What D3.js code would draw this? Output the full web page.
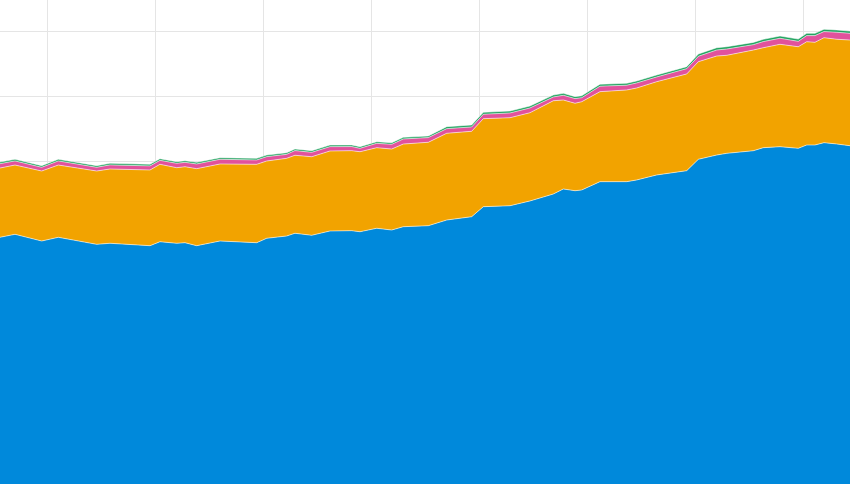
<!DOCTYPE html>
<html>
<head>
<meta charset="utf-8">
<script src="https://cdn.jsdelivr.net/npm/d3@7"></script>
<style>
  html, body { margin: 0; padding: 0; background: #fff; overflow: hidden; }
  svg { display: block; }
</style>
</head>
<body>
<svg id="chart" width="850" height="484"></svg>
<script>
// Time (decimal years)
const years = [2012.565, 2012.704, 2012.951, 2013.105, 2013.460, 2013.583, 2013.954, 2014.046, 2014.201, 2014.278,
  2014.386, 2014.602, 2014.942, 2015.034, 2015.219, 2015.296, 2015.451, 2015.620, 2015.821, 2015.898,
  2016.053, 2016.192, 2016.299, 2016.531, 2016.701, 2016.932, 2017.040, 2017.287, 2017.472, 2017.688,
  2017.781, 2017.889, 2017.951, 2018.120, 2018.368, 2018.460, 2018.645, 2018.923, 2019.031, 2019.201,
  2019.294, 2019.540, 2019.632, 2019.787, 2019.956, 2020.034, 2020.111, 2020.194, 2020.312, 2020.435];

const blue = [38.26, 38.72, 37.69, 38.26, 37.18, 37.34, 36.97, 37.58, 37.34, 37.43,
  36.97, 37.69, 37.43, 38.11, 38.46, 38.88, 38.57, 39.23, 39.28, 39.12,
  39.65, 39.38, 39.89, 40.05, 40.92, 41.43, 42.97, 43.12, 43.85, 44.92,
  45.69, 45.43, 45.54, 46.82, 46.82, 47.08, 47.85, 48.51, 50.26, 50.92,
  51.18, 51.58, 52.05, 52.20, 51.95, 52.46, 52.46, 52.82, 52.62, 52.35];

const orange = [10.66, 10.66, 10.77, 11.12, 11.28, 11.43, 11.65, 11.91, 11.63, 11.69,
  11.85, 11.85, 12.06, 11.89, 11.95, 12.00, 12.09, 12.31, 12.31, 12.31,
  12.40, 12.46, 12.72, 12.83, 13.34, 13.14, 13.54, 13.54, 13.58, 14.35,
  13.69, 13.45, 13.58, 13.85, 14.11, 14.15, 14.35, 14.88, 15.02, 15.23,
  15.08, 15.49, 15.38, 15.75, 15.63, 15.89, 15.80, 16.15, 16.11, 16.26];

const pink = [0.67, 0.63, 0.57, 0.63, 0.57, 0.63, 0.63, 0.61, 0.67, 0.67,
  0.73, 0.72, 0.67, 0.67, 0.61, 0.72, 0.67, 0.67, 0.63, 0.52,
  0.67, 0.72, 0.78, 0.72, 0.72, 0.67, 0.68, 0.73, 0.73, 0.58,
  0.73, 0.72, 0.62, 0.84, 0.73, 0.78, 0.73, 0.82, 0.83, 0.93,
  0.97, 0.83, 0.94, 0.93, 0.83, 0.94, 1.03, 0.94, 1.08, 1.03];

const green = [0.25, 0.25, 0.25, 0.25, 0.25, 0.25, 0.25, 0.25, 0.25, 0.25,
  0.25, 0.25, 0.25, 0.25, 0.25, 0.25, 0.25, 0.25, 0.25, 0.25,
  0.25, 0.25, 0.25, 0.25, 0.30, 0.30, 0.30, 0.30, 0.30, 0.30,
  0.30, 0.30, 0.30, 0.30, 0.30, 0.30, 0.30, 0.30, 0.35, 0.35,
  0.35, 0.35, 0.35, 0.35, 0.35, 0.35, 0.35, 0.35, 0.35, 0.35];

const seriesKeys = ["blue", "orange", "pink", "green"];
const seriesColors = ["#0089db", "#f2a300", "#e1529c", "#22a360"];
const xTicks = [2013, 2014, 2015, 2016, 2017, 2018, 2019, 2020];
const yTicks = [10, 20, 30, 40, 50, 60, 70];

const W = 850, H = 484;
const svg = d3.select("#chart");

const x = d3.scaleLinear().domain([2012.565, 2020.435]).range([0, W]);
const y = d3.scaleLinear().domain([0, 70]).range([486, 31]);

const rows = years.map((t, i) => ({
  t, blue: blue[i], orange: orange[i], pink: pink[i], green: green[i]
}));
const stacked = d3.stack().keys(seriesKeys)(rows);

// gridlines
const grid = svg.append("g");
grid.selectAll("line.v").data(xTicks).join("line")
  .attr("x1", d => Math.round(x(d)) + 0.5).attr("x2", d => Math.round(x(d)) + 0.5)
  .attr("y1", 0).attr("y2", H)
  .attr("stroke", "#e5e5e5").attr("stroke-width", 1);
grid.selectAll("line.h").data(yTicks).join("line")
  .attr("x1", 0).attr("x2", W)
  .attr("y1", d => Math.round(y(d)) + 0.5).attr("y2", d => Math.round(y(d)) + 0.5)
  .attr("stroke", "#e5e5e5").attr("stroke-width", 1);

const area = d3.area()
  .x(d => x(d.data.t))
  .y0(d => y(d[0]))
  .y1(d => y(d[1]));
const topLine = d3.line()
  .x(d => x(d.data.t))
  .y(d => y(d[1]));

svg.append("g").selectAll("path").data(stacked).join("path")
  .attr("d", area)
  .attr("fill", (d, i) => seriesColors[i]);

svg.append("g").selectAll("path").data(stacked).join("path")
  .attr("d", topLine)
  .attr("fill", "none")
  .attr("stroke", "#ffffff")
  .attr("stroke-opacity", 0.55)
  .attr("stroke-width", 1);
</script>
</body>
</html>
